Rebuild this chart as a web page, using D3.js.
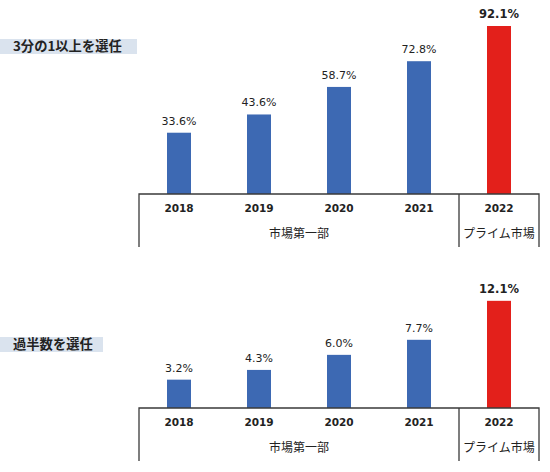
<!DOCTYPE html>
<html>
<head>
<meta charset="utf-8">
<script src="https://cdn.jsdelivr.net/npm/d3@7"></script>
<style>
  body { margin: 0; background: #fff; }
  svg { display: block; }
  text { font-family: "DejaVu Sans", "Noto Sans CJK JP", sans-serif; fill: #222; }
  .jp { font-family: "Noto Sans CJK JP", sans-serif; }
  .frame { stroke: #3a3a3a; stroke-width: 1.3; fill: none; }
</style>
</head>
<body>
<div id="chart"></div>
<script>
// Two stacked bar panels: share of companies electing independent directors
const years = ["2018", "2019", "2020", "2021", "2022"];
const groups = [
  { name: "市場第一部", from: "2018", to: "2021" },
  { name: "プライム市場", from: "2022", to: "2022" }
];
const thirdValues = [33.6, 43.6, 58.7, 72.8, 92.1];
const majorityValues = [3.2, 4.3, 6.0, 7.7, 12.1];

const panels = [
  { title: "3分の1以上を選任", values: thirdValues, max: 100, base: 194, height: 182.4, titleY: 39, titleW: 137 },
  { title: "過半数を選任", values: majorityValues, max: 14, base: 408, height: 124, titleY: 337, titleW: 103 }
];

const W = 550, H = 472;
const BLUE = "#3d69b3", RED = "#e3201b";

const svg = d3.select("#chart").append("svg")
  .attr("width", W).attr("height", H);

const x = d3.scaleBand()
  .domain(years)
  .range([139, 539])
  .paddingInner(0.7)
  .paddingOuter(0.35);

const step = x.step();
const last = years[years.length - 1];

panels.forEach(p => {
  const y = d3.scaleLinear().domain([0, p.max]).range([p.base, p.base - p.height]);
  const g = svg.append("g");

  // title tag
  g.append("rect")
    .attr("x", 0).attr("y", p.titleY)
    .attr("width", p.titleW).attr("height", 15)
    .attr("fill", "#dae3ee");
  g.append("text")
    .attr("class", "jp")
    .attr("x", 13).attr("y", p.titleY + 7.5)
    .attr("dy", "0.36em")
    .style("font-size", "13.3px")
    .style("font-weight", "bold")
    .text(p.title);

  // bars
  g.selectAll("rect.bar")
    .data(years.map((yr, i) => ({ yr, v: p.values[i] })))
    .join("rect")
    .attr("class", "bar")
    .attr("x", d => x(d.yr))
    .attr("width", x.bandwidth())
    .attr("y", d => y(d.v))
    .attr("height", d => p.base - y(d.v))
    .attr("fill", d => d.yr === last ? RED : BLUE);

  // value labels
  g.selectAll("text.val")
    .data(years.map((yr, i) => ({ yr, v: p.values[i] })))
    .join("text")
    .attr("class", "val")
    .attr("x", d => x(d.yr) + x.bandwidth() / 2)
    .attr("y", d => y(d.v) - 12)
    .attr("dy", "0.36em")
    .attr("text-anchor", "middle")
    .style("font-size", d => d.yr === last ? "11.5px" : "11px")
    .style("font-weight", d => d.yr === last ? "bold" : "normal")
    .text(d => d3.format(".1f")(d.v) + "%");

  // frame: baseline + group dividers
  const left = x.range()[0], right = x.range()[1];
  const bottom = p.base + 53;
  const sep = x(last) + x.bandwidth() / 2 - step / 2;
  g.append("path")
    .attr("class", "frame")
    .attr("d", `M${left},${bottom}V${p.base}H${right}V${bottom}M${sep},${p.base}V${bottom}`);

  // year labels
  g.selectAll("text.yr")
    .data(years)
    .join("text")
    .attr("class", "yr")
    .attr("x", d => x(d) + x.bandwidth() / 2)
    .attr("y", p.base + 14)
    .attr("dy", "0.36em")
    .attr("text-anchor", "middle")
    .style("font-size", "10.5px")
    .style("font-weight", "bold")
    .text(d => d);

  // group labels
  g.selectAll("text.grp")
    .data(groups)
    .join("text")
    .attr("class", "grp jp")
    .attr("x", d => {
      const a = d.from === years[0] ? left : x(d.from) + x.bandwidth() / 2 - step / 2;
      const b = d.to === last ? right : x(d.to) + x.bandwidth() / 2 + step / 2;
      return (a + b) / 2;
    })
    .attr("y", p.base + 40)
    .attr("dy", "0.36em")
    .attr("text-anchor", "middle")
    .style("font-size", "12px")
    .text(d => d.name);
});
</script>
</body>
</html>
